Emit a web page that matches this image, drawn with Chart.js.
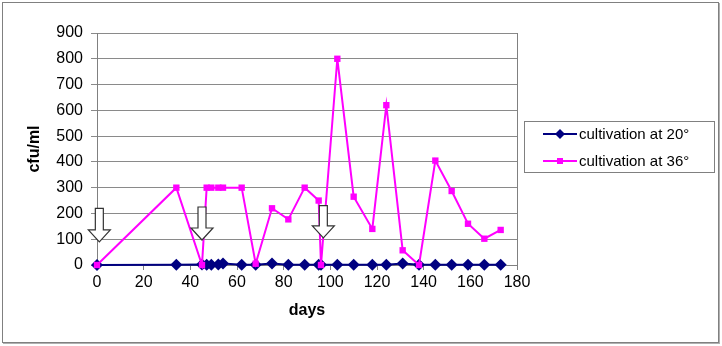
<!DOCTYPE html>
<html>
<head>
<meta charset="utf-8">
<script src="https://cdn.jsdelivr.net/npm/chart.js@4/dist/chart.umd.min.js"></script>
<style>
  body { margin: 0; background: #fff; }
  #wrap { width: 722px; height: 346px; }
</style>
</head>
<body>
<div id="wrap"><canvas id="myChart" width="722" height="346"></canvas></div>
<script>
// sampling days and counts
var days = [0, 34, 45, 47, 49, 52, 54, 62, 68, 75, 82, 89, 95, 96, 103, 110, 118, 124, 131, 138, 145, 152, 159, 166, 173];
var cfu20 = [0, 1, 2, 1, 1, 2, 6, 1, 1, 6, 1, 1, 1, 1, 1, 1, 1, 1, 6, 1, 1, 1, 1, 1, 1];
var cfu36 = [0, 300, 0, 300, 300, 300, 300, 300, 5, 220, 177, 300, 250, 0, 800, 265, 140, 620, 57, 0, 405, 287, 160, 102, 136];
var seriesNames = ['cultivation at 20°', 'cultivation at 36°'];

// reinoculation arrows (day, top value, tip value)
var arrowDays = [1, 45, 97];
var arrowTop = [220, 225, 230];
var arrowTip = [90, 97, 105];

function pts(xs, ys) {
  var out = [];
  for (var i = 0; i < xs.length; i++) out.push({ x: xs[i], y: ys[i] });
  return out;
}

var FONT = "'Liberation Sans', Arial, sans-serif";
Chart.defaults.font.family = FONT;
Chart.defaults.color = '#000';

var frame = {
  id: 'frame',
  beforeDraw: function (chart) {
    var c = chart.ctx;
    c.save();
    c.fillStyle = '#fff';
    c.fillRect(0, 0, chart.width, chart.height);
    c.strokeStyle = '#b0b0b0';
    c.lineWidth = 1;
    c.strokeRect(719.5, 3.5, 0.01, 340);
    c.strokeRect(3.5, 343.5, 716, 0.01);
    c.strokeStyle = '#808080';
    c.strokeRect(2.5, 2.5, 716, 340);
    c.restore();
  },
  afterDraw: function (chart) {
    // plot area right border
    var a = chart.chartArea, c = chart.ctx;
    c.save();
    c.strokeStyle = '#808080';
    c.lineWidth = 1;
    c.beginPath();
    c.moveTo(Math.round(a.right) + 0.5, a.top);
    c.lineTo(Math.round(a.right) + 0.5, a.bottom);
    c.stroke();

    // legend
    c.strokeStyle = '#808080';
    c.strokeRect(524.5, 121.5, 190, 51);
    c.font = '15px ' + FONT;
    c.textBaseline = 'middle';
    c.fillStyle = '#000';
    var rows = [134, 161];
    chart.data.datasets.forEach(function (ds, i) {
      var y = rows[i];
      c.strokeStyle = ds.borderColor;
      c.lineWidth = 2;
      c.beginPath();
      c.moveTo(543, y);
      c.lineTo(577, y);
      c.stroke();
      c.fillStyle = ds.borderColor;
      if (ds.pointStyle === 'rectRot') {
        c.beginPath();
        c.moveTo(560, y - 5);
        c.lineTo(565, y);
        c.lineTo(560, y + 5);
        c.lineTo(555, y);
        c.closePath();
        c.fill();
      } else {
        c.fillRect(557, y - 3, 6, 6);
      }
      c.fillStyle = '#000';
      c.fillText(ds.label, 579, y + 1);
    });
    c.restore();
  },
  afterDatasetsDraw: function (chart) {
    var c = chart.ctx, xs = chart.scales.x, ys = chart.scales.y;
    c.save();
    c.fillStyle = '#fff';
    c.strokeStyle = '#333';
    c.lineWidth = 1.2;
    for (var i = 0; i < arrowDays.length; i++) {
      var x = xs.getPixelForValue(arrowDays[i]);
      var top = ys.getPixelForValue(arrowTop[i]);
      var tip = ys.getPixelForValue(arrowTip[i]);
      var neck = tip - 12;
      c.beginPath();
      c.moveTo(x - 4, top);
      c.lineTo(x + 4, top);
      c.lineTo(x + 4, neck);
      c.lineTo(x + 11, neck);
      c.lineTo(x, tip);
      c.lineTo(x - 11, neck);
      c.lineTo(x - 4, neck);
      c.closePath();
      c.fill();
      c.stroke();
    }
    c.restore();
  }
};

var ctx = document.getElementById('myChart').getContext('2d');
var chart = new Chart(ctx, {
  type: 'line',
  data: {
    datasets: [{
      label: seriesNames[0],
      data: pts(days, cfu20),
      borderColor: '#000080',
      backgroundColor: '#000080',
      borderWidth: 2,
      pointStyle: 'rectRot',
      pointRadius: 6,
      pointBorderWidth: 0,
      tension: 0,
      clip: false,
      order: 2
    }, {
      label: seriesNames[1],
      data: pts(days, cfu36),
      borderColor: '#ff00ff',
      backgroundColor: '#ff00ff',
      borderWidth: 2,
      pointStyle: 'rect',
      pointRadius: 4.5,
      pointBorderWidth: 0,
      tension: 0,
      clip: false,
      order: 1
    }]
  },
  options: {
    responsive: false,
    animation: false,
    layout: { padding: { left: 0, right: 205, top: 33, bottom: 0 } },
    plugins: { legend: { display: false }, tooltip: { enabled: false } },
    scales: {
      x: {
        type: 'linear',
        min: 0, max: 180,
        afterFit: function (s) { s.height = 81; },
        ticks: { stepSize: 20, font: { size: 16 }, padding: 3, color: '#000', maxRotation: 0 },
        grid: { drawOnChartArea: false, drawTicks: true, tickLength: 5, color: '#808080' },
        border: { color: '#808080' },
        title: { display: true, text: 'days', font: { size: 16, weight: 'bold' }, padding: { top: 0, bottom: 26 } }
      },
      y: {
        min: 0, max: 900,
        afterFit: function (s) { s.width = 97; },
        ticks: { stepSize: 100, font: { size: 16 }, padding: 8, color: '#000' },
        grid: { color: '#8a8a8a', tickLength: 6, drawTicks: true },
        border: { color: '#808080' },
        title: { display: true, text: 'cfu/ml', font: { size: 16, weight: 'bold' }, padding: { top: 25, bottom: 0 } }
      }
    }
  },
  plugins: [frame]
});
</script>
</body>
</html>
